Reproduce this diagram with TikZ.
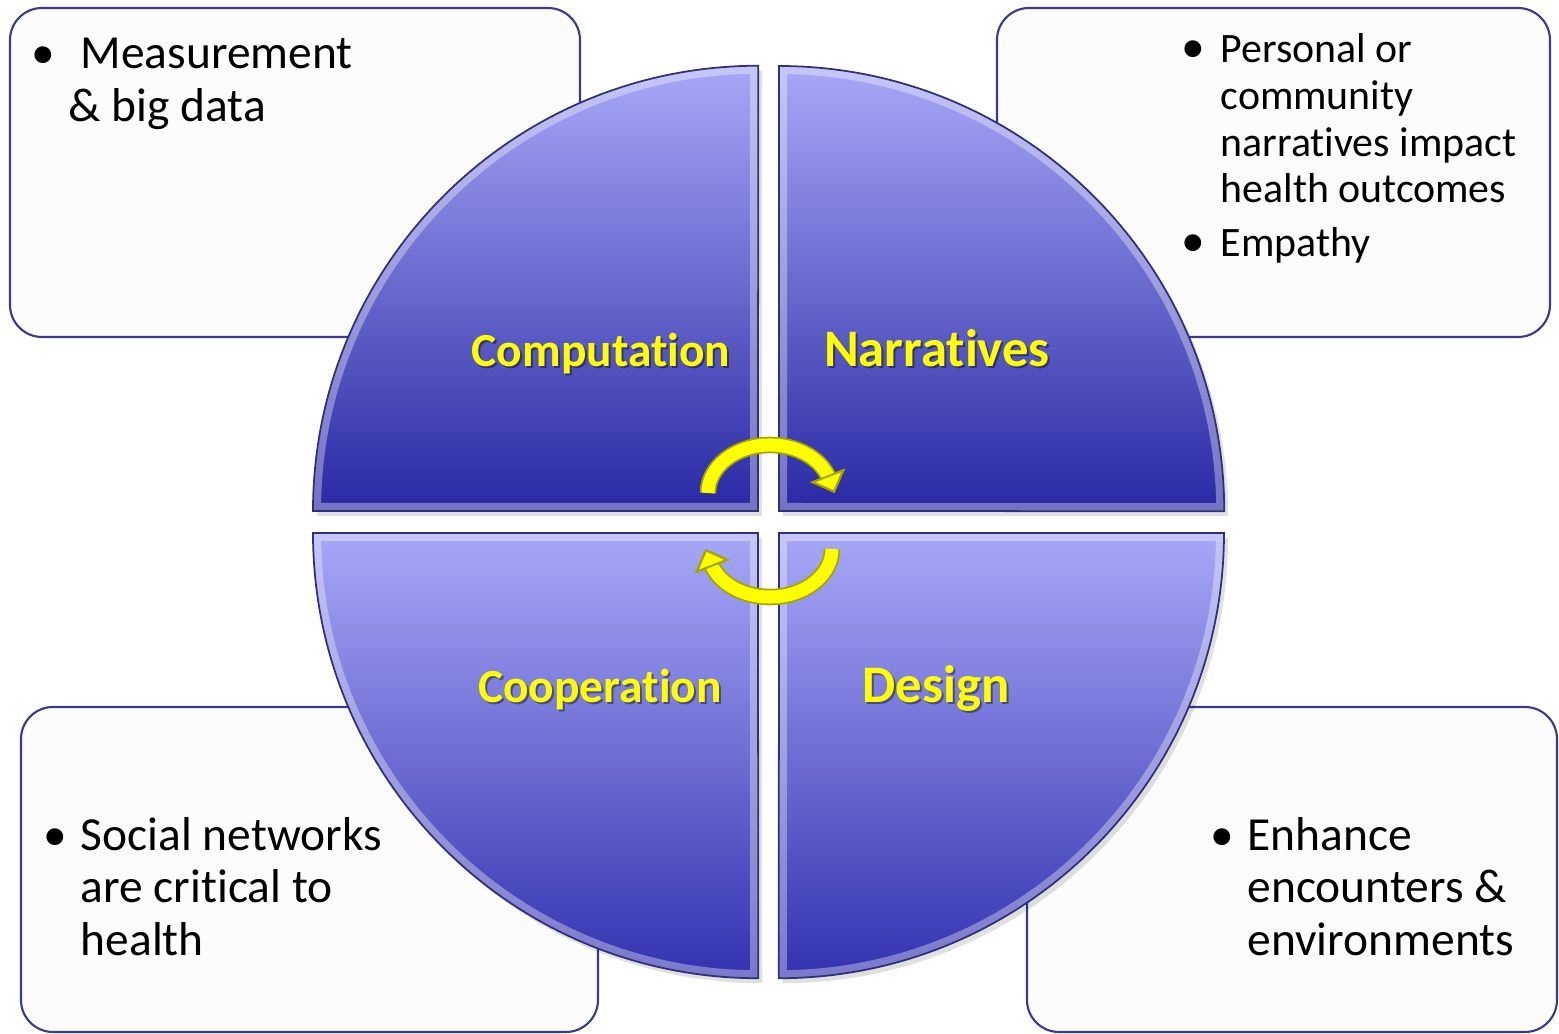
\documentclass[tikz,border=0pt]{standalone}
\usepackage{fontspec}
\setmainfont{Carlito}[Ligatures=NoCommon]
\usetikzlibrary{arrows.meta}

\definecolor{boxline}{RGB}{58,58,140}
\definecolor{boxfill}{RGB}{252,252,252}
\definecolor{quadlight}{RGB}{168,168,247}
\definecolor{quaddark}{RGB}{40,40,164}
\definecolor{quadmid}{RGB}{50,50,176}
\definecolor{quadedge}{RGB}{48,48,120}
\definecolor{arrowedge}{RGB}{165,165,0}
\definecolor{labelyellow}{RGB}{255,255,0}

% quarter discs of the circle
\newcommand{\quadTL}{(758,511) -- (313,511) arc[start angle=180,end angle=90,radius=4.45cm] -- cycle}
\newcommand{\quadTR}{(779,511) -- (779,66) arc[start angle=90,end angle=0,radius=4.45cm] -- cycle}
\newcommand{\quadBL}{(758,533) -- (313,533) arc[start angle=180,end angle=270,radius=4.45cm] -- cycle}
\newcommand{\quadBR}{(779,533) -- (1224,533) arc[start angle=0,end angle=-90,radius=4.45cm] -- cycle}

\tikzset{
  infobox/.style={draw=boxline, line width=0.6pt, fill=boxfill, rounded corners=0.32cm},
  quadshade/.style={top color=quadlight, bottom color=#1},
  bevel/.style={draw=white, opacity=0.35, line width=0.16cm},
  quadrim/.style={draw=quadedge, line width=0.5pt},
  quadshadow/.style={fill=black, opacity=0.12},
  bodytext/.style={anchor=base west, inner sep=0pt, font=\fontsize{13.5}{15}\selectfont},
  smalltext/.style={anchor=base west, inner sep=0pt, font=\fontsize{11.9}{13}\selectfont},
  bulletmark/.style={anchor=base, inner sep=0pt, font=\fontsize{13.5}{15}\selectfont},
  quadlabel/.style={anchor=base, inner sep=0pt, text=labelyellow, font=\fontsize{13.5}{15}\selectfont\bfseries},
  biglabel/.style={quadlabel, font=\fontsize{15}{17}\selectfont\bfseries},
  labelshadow/.style={text=black, opacity=0.4},
  cyclearrow/.style={draw=labelyellow, line width=0.13cm,
    preaction={draw=arrowedge, line width=0.165cm},
    -{Triangle[width=0.37cm,length=0.19cm,line width=0.6pt,color=arrowedge,fill=labelyellow]}},
}

\begin{document}
\begin{tikzpicture}[x=0.01cm,y=-0.01cm]
\useasboundingbox (0,0) rectangle (1559,1034);

% corner boxes
\draw[infobox] (10,8) rectangle (580,337);
\draw[infobox] (997,8) rectangle (1550,337);
\draw[infobox] (21,707) rectangle (598,1032);
\draw[infobox] (1027,707) rectangle (1557,1032);

\node[bulletmark] (tlb) at (43,69) {•};
\node[bodytext] (meas1) at (80,69) {Measurement};
\node[bodytext] (meas2) at (68,122) {\& big data};

\node[bulletmark] (trb1) at (1193,63) {•};
\node[smalltext] (narr1) at (1220,63) {Personal or};
\node[smalltext] (narr2) at (1220,110) {community};
\node[smalltext] (narr3) at (1220,157) {narratives impact};
\node[smalltext] (narr4) at (1220,203) {health outcomes};
\node[bulletmark] (trb2) at (1193,257) {•};
\node[smalltext] (emp) at (1220,257) {Empathy};

\node[bulletmark] (blb) at (55,851) {•};
\node[bodytext] (soc1) at (80,851) {Social networks};
\node[bodytext] (soc2) at (80,903) {are critical to};
\node[bodytext] (soc3) at (80,956) {health};

\node[bulletmark] (brb) at (1222,851) {•};
\node[bodytext] (enh1) at (1247,851) {Enhance};
\node[bodytext] (enh2) at (1247,903) {encounters \&};
\node[bodytext] (enh3) at (1247,956) {environments};

% shadows of the quarters
\begin{scope}[shift={(4,5)}]
\fill[quadshadow] \quadTL;
\fill[quadshadow] \quadTR;
\fill[quadshadow] \quadBL;
\fill[quadshadow] \quadBR;
\end{scope}

% quarters
\shade[quadshade=quaddark] \quadTL;
\shade[quadshade=quaddark] \quadTR;
\shade[quadshade=quadmid] \quadBL;
\shade[quadshade=quadmid] \quadBR;
\begin{scope}
\clip \quadTL;
\draw[bevel] \quadTL;
\end{scope}
\begin{scope}
\clip \quadTR;
\draw[bevel] \quadTR;
\end{scope}
\begin{scope}
\clip \quadBL;
\draw[bevel] \quadBL;
\end{scope}
\begin{scope}
\clip \quadBR;
\draw[bevel] \quadBR;
\end{scope}
\draw[quadrim] \quadTL;
\draw[quadrim] \quadTR;
\draw[quadrim] \quadBL;
\draw[quadrim] \quadBR;

% labels
\node[quadlabel, labelshadow] (compsh) at (603,369) {Computation};
\node[quadlabel] (comp) at (601,367) {Computation};
\node[biglabel, labelshadow] (narrsh) at (939,369) {Narratives};
\node[biglabel] (narr) at (937,367) {Narratives};
\node[quadlabel, labelshadow] (coopsh) at (602,705) {Cooperation};
\node[quadlabel] (coop) at (600,703) {Cooperation};
\node[biglabel, labelshadow] (dessh) at (938,705) {Design};
\node[biglabel] (des) at (936,703) {Design};

% cycle arrows
\coordinate (topstart) at (708,493);
\coordinate (botstart) at (832,549);
\draw[cyclearrow] (topstart) arc[start angle=180,end angle=22,x radius=0.62cm,y radius=0.48cm] -- ++(7,18);
\draw[cyclearrow] (botstart) arc[start angle=0,end angle=-158,x radius=0.62cm,y radius=0.48cm] -- ++(-7,-18);
\end{tikzpicture}
\end{document}
